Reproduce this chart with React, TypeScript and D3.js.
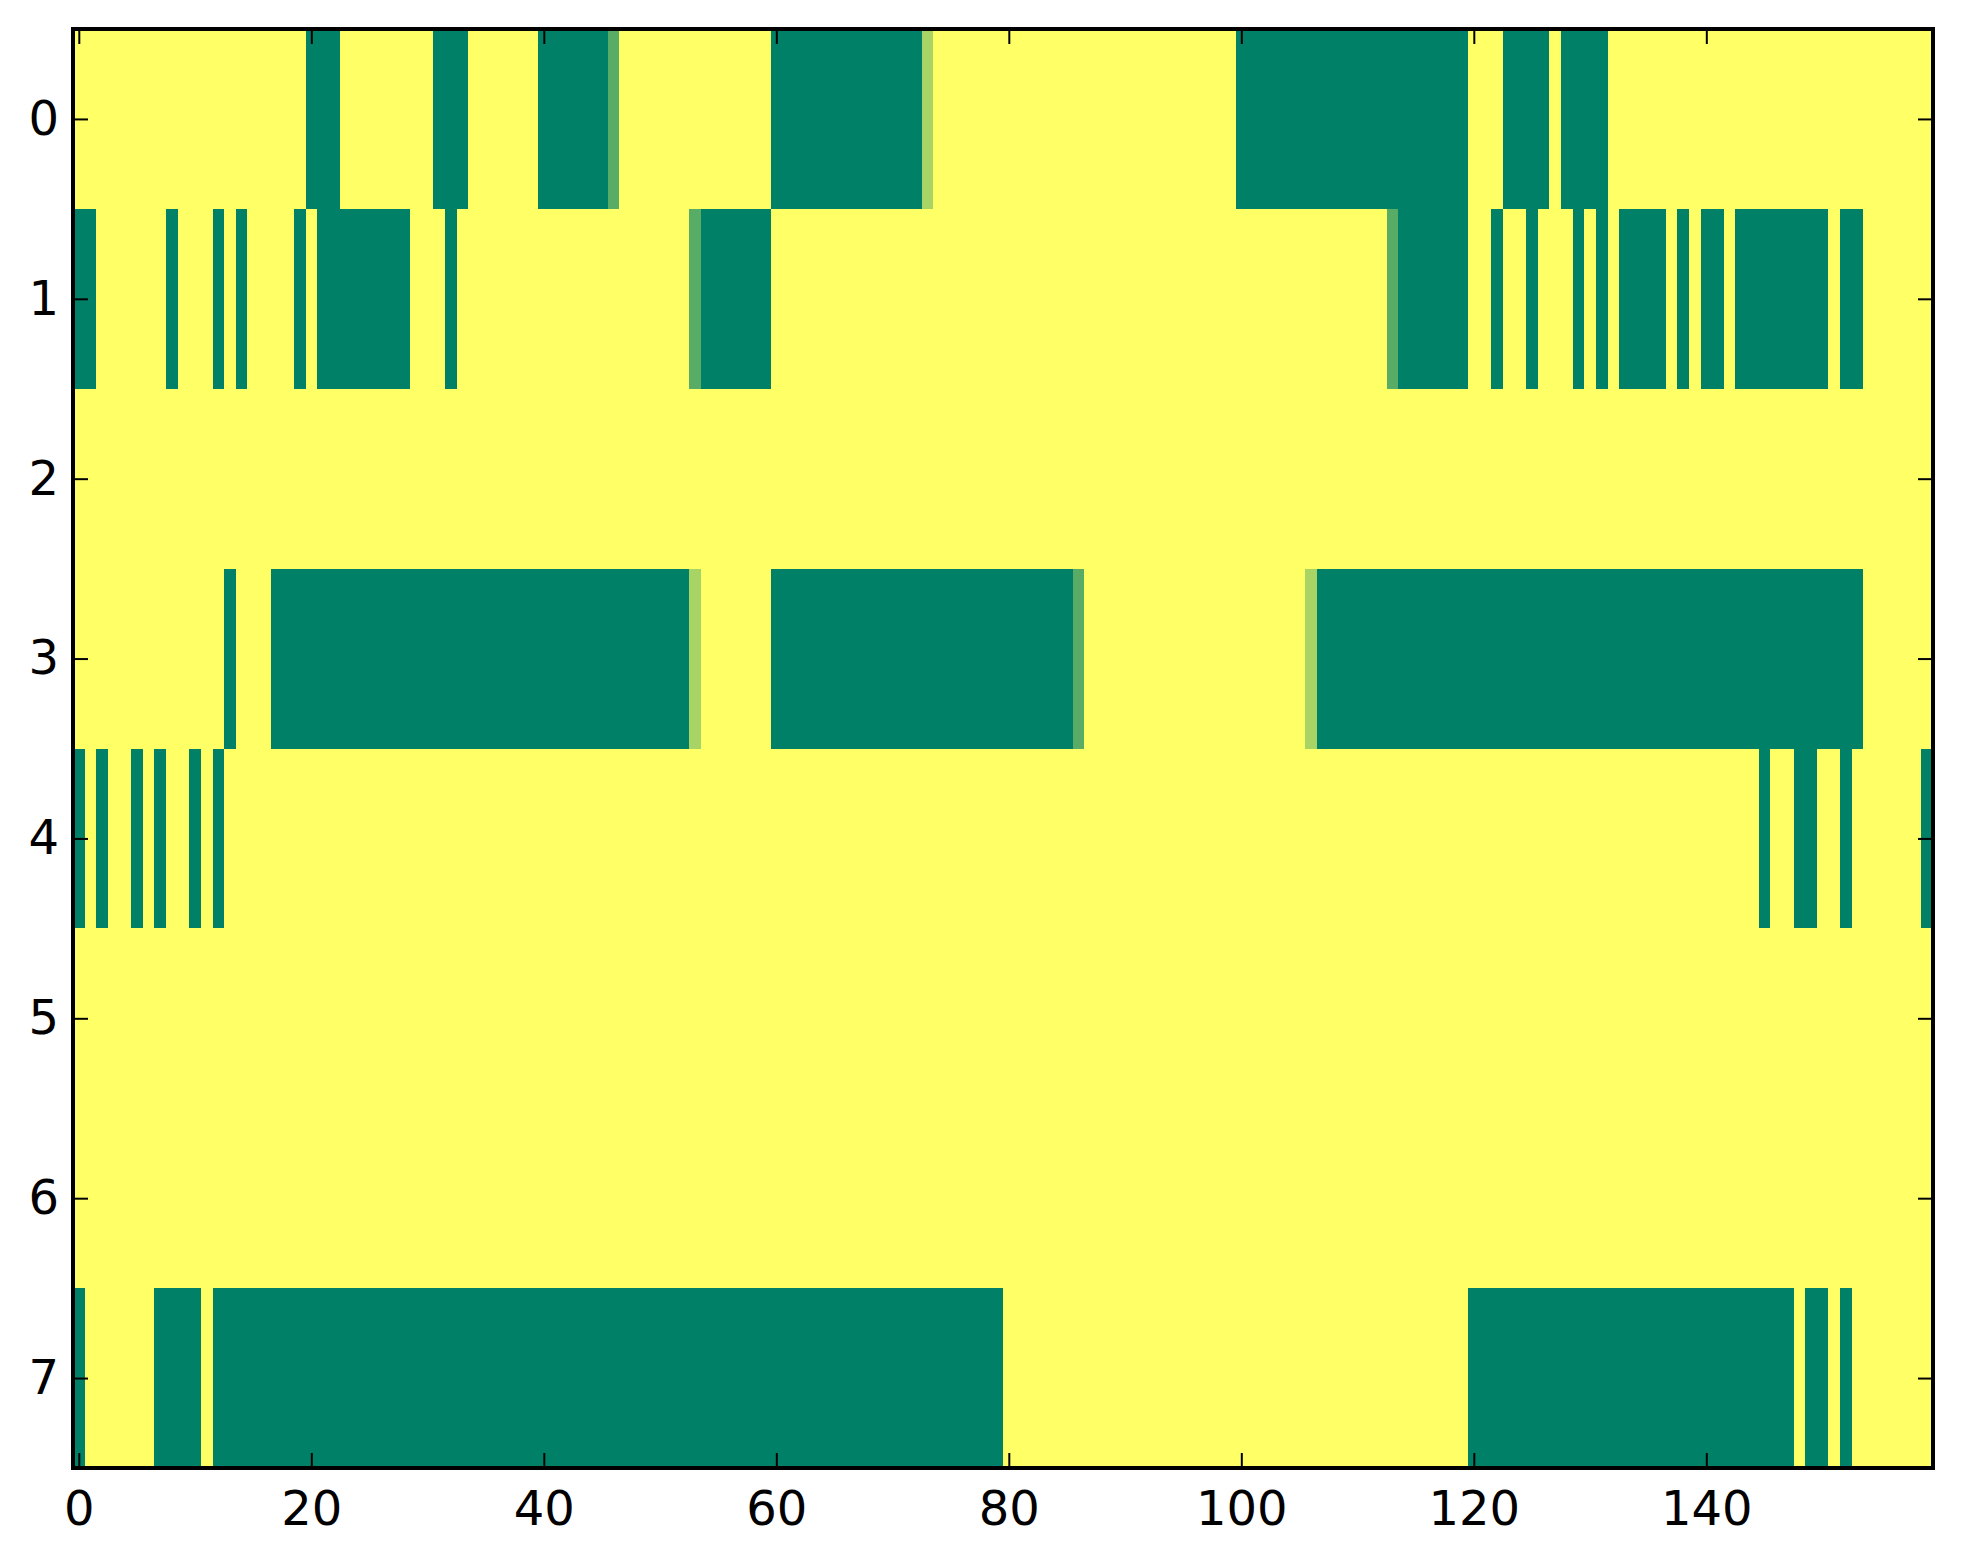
//@ts-nocheck
import * as d3 from "d3";
import { useEffect, useRef } from "react";

// grid size
const nCols = 160;
const rowLabels = [0, 1, 2, 3, 4, 5, 6, 7];
const xTicks = [0, 20, 40, 60, 80, 100, 120, 140];

// cells that are not 1 (yellow), as [firstCol, lastCol, value] per row
const row0 = [[20, 22, 0], [31, 33, 0], [40, 45, 0], [46, 46, 0.35], [60, 72, 0], [73, 73, 0.66], [100, 119, 0], [123, 126, 0], [128, 131, 0]];
const row1 = [[0, 1, 0], [8, 8, 0], [12, 12, 0], [14, 14, 0], [19, 19, 0], [21, 28, 0], [32, 32, 0], [53, 53, 0.35], [54, 59, 0], [113, 113, 0.35], [114, 119, 0], [122, 122, 0], [125, 125, 0], [129, 129, 0], [131, 131, 0], [133, 136, 0], [138, 138, 0], [140, 141, 0], [143, 150, 0], [152, 153, 0]];
const row2 = [];
const row3 = [[13, 13, 0], [17, 52, 0], [53, 53, 0.66], [60, 85, 0], [86, 86, 0.35], [106, 106, 0.66], [107, 153, 0]];
const row4 = [[0, 0, 0], [2, 2, 0], [5, 5, 0], [7, 7, 0], [10, 10, 0], [12, 12, 0], [145, 145, 0], [148, 149, 0], [152, 152, 0], [159, 159, 0]];
const row5 = [];
const row6 = [];
const row7 = [[0, 0, 0], [7, 10, 0], [12, 79, 0], [120, 147, 0], [149, 150, 0], [152, 152, 0]];

const rowRuns = [row0, row1, row2, row3, row4, row5, row6, row7];

const W = 1963, H = 1564;
const left = 73, right = 1933, top = 29, bottom = 1468;

const Heatmap = () => {
  const ref = useRef(null);

  useEffect(() => {
    const svg = d3.select(ref.current);
    svg.selectAll("*").remove();

    // expand the runs into a full grid
    const cells = [];
    rowRuns.forEach((runs, r) => {
      const vals = new Array(nCols).fill(1);
      runs.forEach(([a, b, v]) => { for (let c = a; c <= b; c++) vals[c] = v; });
      vals.forEach((v, c) => cells.push({ r, c, v }));
    });

    const x = d3.scaleLinear().domain([-0.5, nCols - 0.5]).range([left, right]);
    const y = d3.scaleLinear().domain([-0.5, rowLabels.length - 0.5]).range([top, bottom]);
    // matplotlib "summer" is a straight line between these two
    const color = d3.scaleLinear().domain([0, 1]).range(["#008066", "#ffff66"]);

    svg.append("g")
      .selectAll("rect")
      .data(cells)
      .enter()
      .append("rect")
      .attr("x", d => x(d.c - 0.5))
      .attr("y", d => y(d.r - 0.5))
      .attr("width", x(1) - x(0) + 0.5)
      .attr("height", y(1) - y(0) + 0.5)
      .attr("fill", d => color(d.v))
      .attr("shape-rendering", "crispEdges");

    const font = "DejaVu Sans";
    const tick = 15;

    const styleAxis = g => {
      g.select(".domain").remove();
      g.selectAll(".tick line").attr("stroke", "#000").attr("stroke-width", 2);
      g.selectAll("text").attr("font-family", font).attr("font-size", 48).attr("fill", "#000");
    };

    svg.append("g")
      .attr("transform", `translate(0,${bottom})`)
      .call(d3.axisBottom(x).tickValues(xTicks).tickSize(-tick).tickPadding(23))
      .call(styleAxis);
    svg.append("g")
      .attr("transform", `translate(0,${top})`)
      .call(d3.axisTop(x).tickValues(xTicks).tickSize(-tick).tickFormat(""))
      .call(styleAxis);
    svg.append("g")
      .attr("transform", `translate(${left},0)`)
      .call(d3.axisLeft(y).tickValues(rowLabels).tickSize(-tick).tickPadding(14))
      .call(styleAxis);
    svg.append("g")
      .attr("transform", `translate(${right},0)`)
      .call(d3.axisRight(y).tickValues(rowLabels).tickSize(-tick).tickFormat(""))
      .call(styleAxis);

    // frame
    svg.append("rect")
      .attr("x", left)
      .attr("y", top)
      .attr("width", right - left)
      .attr("height", bottom - top)
      .attr("fill", "none")
      .attr("stroke", "#000")
      .attr("stroke-width", 4);
  }, []);

  return <svg ref={ref} width={W} height={H} style={{ display: "block", background: "#fff" }}></svg>;
};

export default function App() {
  return (
    <div style={{ position: "absolute", left: 0, top: 0 }}>
      <Heatmap />
    </div>
  );
}
